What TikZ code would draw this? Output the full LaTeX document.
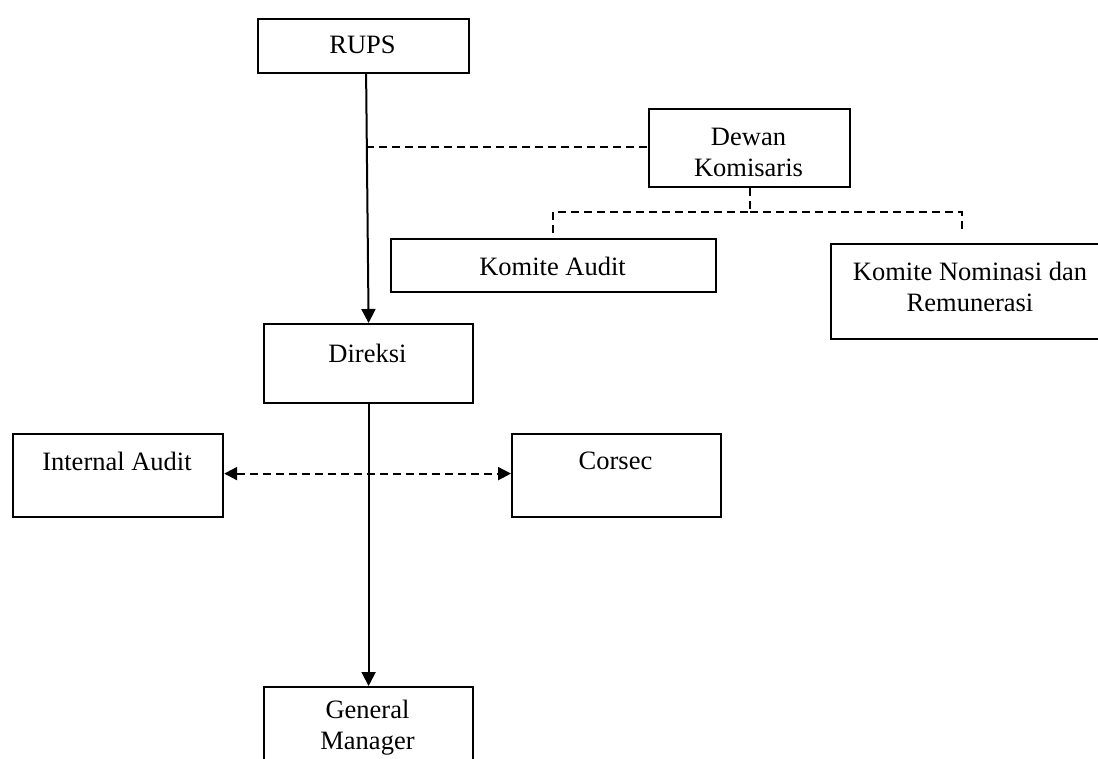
\documentclass[tikz,border=0pt]{standalone}
\usepackage{fontspec}
\setmainfont{Liberation Serif}
\usetikzlibrary{arrows.meta,calc}
\begin{document}
\begin{tikzpicture}[x=1pt,y=-1pt,
  box/.style={draw=black,line width=2.2pt,fill=white,inner sep=0pt,anchor=north west},
  txt/.style={inner sep=0pt,align=center,font=\fontsize{26.5}{31}\selectfont},
  solidline/.style={line width=2pt},
  dashline/.style={line width=2.2pt,dash pattern=on 8pt off 5pt},
  tip/.style={-{Triangle[length=14pt,width=14pt]}},
  dtip/.style={{Triangle[length=13pt,width=13pt]}-{Triangle[length=13pt,width=13pt]}}
]
\clip (0,0) rectangle (1098,758);
\fill[white] (0,0) rectangle (1098,758);
% boxes
\node[box,minimum width=211pt,minimum height=54pt] (rups) at (257,18) {};
\node[box,minimum width=201pt,minimum height=78pt] (dewan) at (648,108) {};
\node[box,minimum width=325pt,minimum height=53pt] (audit) at (390,238) {};
\node[box,minimum width=280pt,minimum height=95pt] (nom) at (830,243) {};
\node[box,minimum width=209pt,minimum height=79pt] (direksi) at (263,323) {};
\node[box,minimum width=210pt,minimum height=83pt] (ia) at (12,433) {};
\node[box,minimum width=209pt,minimum height=83pt] (cs) at (511,433) {};
\node[box,minimum width=209pt,minimum height=100pt] (gm) at (263,686) {};
% texts
\node[txt] (rupsT) at (362.5,45) {RUPS};
\node[txt] (dewanT) at (748.5,152) {Dewan\\Komisaris};
\node[txt] (auditT) at (552.5,266) {Komite Audit};
\node[txt] (nomT) at (970,287) {Komite Nominasi dan\\Remunerasi};
\node[txt] (direksiT) at (367.5,353) {Direksi};
\node[txt] (iaT) at (117,461) {Internal Audit};
\node[txt] (csT) at (615.5,461) {Corsec};
\node[txt] (gmT) at (367.5,728) {General\\Manager};
% connectors
\coordinate (j1) at (366,147);
\coordinate (jd) at (750,212);
\coordinate (jl) at (553,212);
\coordinate (jr) at (962,212);
\coordinate (nomtop) at (962,233);
\draw[solidline,tip] ($(rups.south)+(2.5,0)$) -- (direksi.north);
\draw[dashline] (j1) -- (j1 -| dewan.west);
\draw[dashline] (dewan.south -| jd) -- (jd) -- (jl) -- (jl |- audit.north);
\draw[dashline] (jd) -- (jr) -- (nomtop);
\draw[solidline,tip] (direksi.south) -- (gm.north);
\draw[dashline,dtip] ($(ia.east)+(0,-2)$) -- ($(cs.west)+(0,-2)$);
\end{tikzpicture}
\end{document}
